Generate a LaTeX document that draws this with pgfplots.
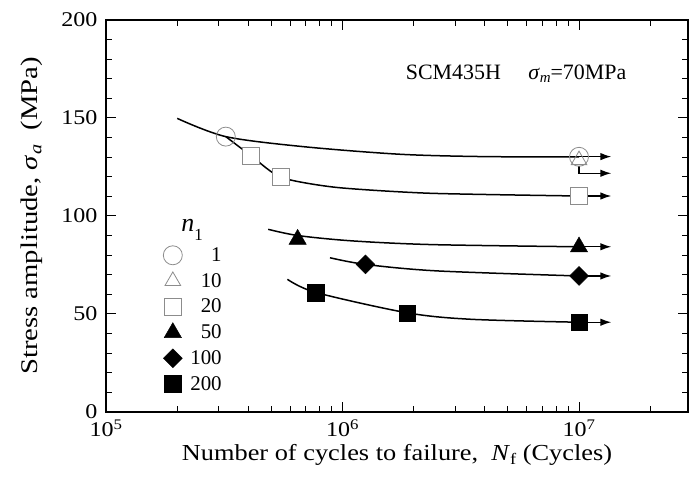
\documentclass[border=0pt]{standalone}
\usepackage{fontspec}
\setmainfont{Liberation Serif}
\newfontfamily\wide{Liberation Serif}[FakeStretch=1.15]
\newfontfamily\wider{Liberation Serif}[FakeStretch=1.2]
\usepackage{pgfplots}
\pgfplotsset{compat=1.18}
\usetikzlibrary{arrows.meta}
\definecolor{mk}{gray}{0.55}
\begin{document}
\begin{tikzpicture}
\begin{axis}[
  name=ax,
  scale only axis, width=582bp, height=392bp,
  xmode=log, xmin=1e5, xmax=2.89e7, ymin=0, ymax=200,
  xtick={1e5,1e6,1e7},
  xticklabels={{10\textsuperscript{5}},{10\textsuperscript{6}},{10\textsuperscript{7}}},
  minor xtick={2e5,3e5,4e5,5e5,6e5,7e5,8e5,9e5,2e6,3e6,4e6,5e6,6e6,7e6,8e6,9e6,2e7},
  ytick={0,50,100,150,200}, minor y tick num=4,
  tick align=inside, major tick length=10bp, minor tick length=6bp,
  axis line style={line width=1.3bp},
  every tick/.style={black, line width=1bp},
  tick label style={font=\wide\fontsize{21}{25}\selectfont},
  xticklabel style={yshift=-4bp},
  yticklabel style={xshift=-5bp},
  /pgf/number format/assume math mode=true,
  xlabel={Number of cycles to failure,\ \ \textit{N}\raisebox{-4bp}{\fontsize{16}{18}\selectfont f} (Cycles)},
  ylabel={Stress amplitude, \textit{σ}\raisebox{-4bp}{\fontsize{17}{19}\selectfont\textit{a}}\ \ (MPa)},
  xlabel style={font=\wide\fontsize{23}{27}\selectfont, yshift=-1bp},
  ylabel style={font=\wider\fontsize{24}{28}\selectfont, yshift=12bp},
  clip=false,
  legend style={draw=none, fill=none, at={(0.093,0.430)}, anchor=north west,
    font=\fontsize{21}{25}\selectfont, row sep=6.3bp,
    /tikz/every odd column/.append style={column sep=6bp}},
  legend cell align=right,
]
% fitted curves
\addplot[black, line width=1.5bp, smooth, tension=0.5, forget plot] coordinates {
 (2e5,149.8) (3.21e5,140.5) (6.8e5,135.4) (1.75e6,131.5) (4e6,130.3) (1e7,130.2)};
\addplot[black, line width=1.5bp, smooth, tension=0.4, forget plot] coordinates {
 (3.21e5,140.5) (4.1e5,130.8) (5.5e5,119.7) (9.4e5,114.6) (2.34e6,111.6) (1e7,110.2)};
\addplot[black, line width=1.5bp, smooth, tension=0.5, forget plot] coordinates {
 (4.85e5,93.2) (6.5e5,90.0) (1.1e6,87.3) (2.4e6,85.4) (1e7,84.3)};
\addplot[black, line width=1.5bp, smooth, tension=0.5, forget plot] coordinates {
 (8.85e5,78.7) (1.25e6,75.3) (2.5e6,72.0) (1e7,69.4)};
\addplot[black, line width=1.5bp, smooth, tension=0.5, forget plot] coordinates {
 (5.85e5,67.7) (7.71e5,61.0) (1.88e6,50.6) (3.5e6,47.3) (1e7,45.8)};
% run-out arrows
\pgfplotsset{arr/.style={black, line width=1.3bp, -{Latex[length=11bp,width=7.5bp]}, forget plot}}
\addplot[arr] coordinates {(1e7,130.3) (1.37e7,130.3)};
\addplot[arr] coordinates {(1e7,125.7) (1e7,121.8) (1.37e7,121.8)};
\addplot[arr] coordinates {(1e7,110.2) (1.37e7,110.2)};
\addplot[arr] coordinates {(1e7,84.3) (1.37e7,84.3)};
\addplot[arr] coordinates {(1e7,69.4) (1.37e7,69.4)};
\addplot[arr] coordinates {(1e7,45.8) (1.37e7,45.8)};
% markers
\addplot[only marks, mark=o, mark size=9.5bp, mark options={draw=mk, fill=white, line width=0.8bp}]
 coordinates {(3.21e5,140.5) (1e7,130.2)};
\addlegendentry{1}
\addplot[only marks, mark=triangle, mark size=9bp, mark options={draw=mk, line width=0.8bp}]
 coordinates {(1e7,128.5)};
\addlegendentry{10}
\addplot[only marks, mark=square*, mark size=8.5bp, mark options={draw=mk, fill=white, line width=0.8bp}]
 coordinates {(4.1e5,130.8) (5.5e5,119.7) (1e7,110.2)};
\addlegendentry{20}
\addplot[only marks, mark=triangle*, mark size=10bp, mark options={draw=black, fill=black}]
 coordinates {(6.46e5,88.1) (1e7,84.2)};
\addlegendentry{50}
\addplot[only marks, mark=square*, mark size=6.7bp, mark options={draw=black, fill=black, rotate=45}]
 coordinates {(1.25e6,75.3) (1e7,69.4)};
\addlegendentry{100}
\addplot[only marks, mark=square*, mark size=8.3bp, mark options={draw=black, fill=black}]
 coordinates {(7.71e5,60.9) (1.88e6,50.4) (1e7,45.8)};
\addlegendentry{200}
% texts
\node[anchor=base west, font=\fontsize{22}{26}\selectfont, inner sep=0pt] at (axis cs:1.85e6,169.4)
 {SCM435H\quad\ \textit{σ}\raisebox{-3bp}{\fontsize{15}{17}\selectfont\textit{m}}=70MPa};
\node[anchor=base west, font=\fontsize{26}{30}\selectfont, inner sep=0pt] at (axis cs:2.08e5,92.0)
 {\textit{n}\raisebox{-9bp}{\fontsize{17}{20}\selectfont 1}};
\end{axis}
\pgfresetboundingbox
\path[use as bounding box] ([xshift=-106bp,yshift=-71bp]ax.south west) rectangle ([xshift=3bp,yshift=20bp]ax.north east);
\end{tikzpicture}
\end{document}
